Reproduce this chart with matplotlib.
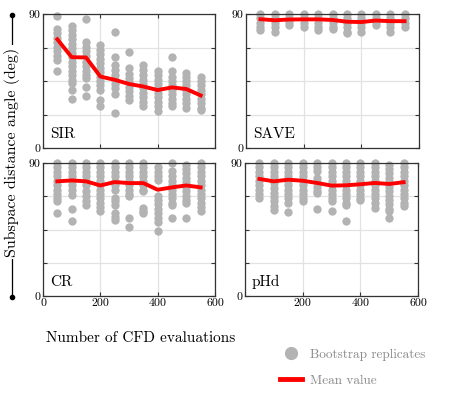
import matplotlib
matplotlib.use("Agg")
import matplotlib.pyplot as plt
from matplotlib.lines import Line2D

plt.rcParams["font.family"] = ["cmr10", "DejaVu Serif"]
plt.rcParams["axes.formatter.use_mathtext"] = True

# evaluation counts (x positions of the bootstrap columns)
n_evals = [50, 100, 150, 200, 250, 300, 350, 400, 450, 500, 550]

# bootstrap replicates per evaluation count (deg)
sir_boot = [
    [88.7, 80, 77, 74, 71, 68, 65, 62, 59, 52],
    [82, 79, 76, 73, 70, 67, 64, 61, 58, 55, 52, 49, 46, 43.6, 38.7, 33],
    [86.4, 71, 68, 65, 62, 58, 55, 52, 49, 47, 41, 34.6],
    [69, 66, 63, 60, 57, 54, 51, 48, 45, 42, 39, 32.4, 28.4],
    [77.7, 61, 55.8, 52.5, 49, 46, 43, 40, 36, 23.5],
    [64.3, 53.6, 50, 47, 44, 41, 38, 35, 32.4],
    [55.8, 52.5, 49, 46, 43, 40, 37, 34, 31, 28],
    [51.8, 49, 46, 43, 40, 37, 34, 31, 28, 24.6],
    [60.8, 51.4, 48, 45, 42, 39, 36, 33, 30, 28.4],
    [50.7, 48, 45, 42, 39, 36, 33, 30, 26.8],
    [47.6, 45, 42, 39, 36, 33, 30, 27, 25.7],
]
sir_mean = [73, 61, 60.8, 48, 45.8, 43, 41.3, 38.9, 40.7, 39.6, 35.3]

save_boot = [
    [90, 87, 84, 81, 79.5],
    [90, 87, 84, 81, 77.7],
    [90, 87, 84.5, 82.6],
    [90, 87, 84, 81],
    [90, 87, 84, 81, 79.5],
    [90, 87, 84, 81, 80],
    [90, 87, 84, 81, 78, 77.2],
    [90, 87, 84, 81, 77.7],
    [90, 87, 84.5, 82.5],
    [90, 87, 84, 81, 77.7],
    [90, 87, 84, 81.5],
]
save_mean = [86.5, 85.8, 86.3, 86.4, 86.4, 86, 84.8, 84.6, 85.6, 85.2, 85.2]

cr_boot = [
    [90, 87, 84, 81, 78, 75, 72, 69, 66, 64, 56.5],
    [90, 87, 84, 81, 78, 75, 72, 68.5, 58.6, 50.9],
    [90, 87, 84, 81, 78, 75, 70.8, 67.4, 64.5, 61.7],
    [90, 87, 84, 81, 78, 75, 72, 69, 66, 63, 60, 57.2],
    [90, 87, 84, 81, 78, 75, 72, 66.2, 64, 61.7, 56, 53.5, 51.5],
    [90, 87, 84, 81, 78, 75, 72, 69, 67.4, 52.7, 46.6],
    [90, 87, 84, 81, 78, 75, 72, 70.8, 59.7, 57.5, 56],
    [87, 84, 81, 78.7, 67.4, 65, 62, 59, 56, 53, 50.4, 43.7],
    [90, 84.3, 81, 78, 75, 72, 69, 66, 63, 61.7, 52.7],
    [88.9, 86, 83, 80, 77, 74, 71, 68, 65, 62.8, 52.7],
    [90, 87, 84, 81, 78, 75, 72, 69, 66, 63, 60, 57.2],
]
cr_mean = [77.6, 78.2, 77.6, 74.8, 77.1, 76.4, 76.4, 71.9, 73.5, 74.8, 73.5]

phd_boot = [
    [90, 87, 84, 81, 78, 75, 72, 69, 66.4],
    [90, 87, 84, 81, 78, 76.5, 73.1, 70, 67, 64, 61, 58.5],
    [90, 87, 84, 81, 78, 75, 72, 69, 66, 63, 56.7],
    [90, 87, 84, 81, 78, 75, 72, 69, 66, 64],
    [90, 87, 84.4, 80, 77, 74, 71, 70, 59],
    [90, 87, 84, 81, 78, 75, 72, 69, 66, 64, 57.8],
    [90, 87, 84, 81, 78, 75, 72, 69, 66, 63, 61.9, 51],
    [90, 87, 84, 81, 78, 75, 72, 69, 66, 65.2],
    [90, 87, 84, 81, 78, 75, 72, 69, 66, 63, 59.6],
    [88.9, 86, 83, 80, 77, 74, 71, 68, 65, 62, 59, 57.3, 52.8],
    [90, 87, 84, 81, 78, 75, 72, 69, 66, 63, 60.7],
]
phd_mean = [79.2, 77.6, 78.7, 78, 76.5, 74.7, 74.9, 75.6, 76.5, 75.8, 77]

panels = [
    ("SIR", sir_boot, sir_mean),
    ("SAVE", save_boot, save_mean),
    ("CR", cr_boot, cr_mean),
    ("pHd", phd_boot, phd_mean),
]

W, H = 473, 394
fig = plt.figure(figsize=(W / 100, H / 100), dpi=100)

# axes boxes in pixels: left, top, right, bottom
boxes = [(43, 14, 215, 148), (246, 14, 419, 148),
         (43, 163, 215, 296), (245, 163, 418, 296)]

dot_color = "#b3b3b3"
for i, ((name, boot, mean), (l, t, r, b)) in enumerate(zip(panels, boxes)):
    ax = fig.add_axes([l / W, 1 - b / H, (r - l) / W, (b - t) / H])
    for x, vals in zip(n_evals, boot):
        ax.scatter([x] * len(vals), vals, s=36, color=dot_color,
                   linewidths=0, clip_on=False, zorder=2)
    ax.plot(n_evals, mean, color="red", lw=2.8, zorder=3, clip_on=False)
    ax.set_xlim(0, 600)
    ax.set_ylim(0, 90)
    ax.set_xticks([0, 200, 400, 600])
    ax.set_yticks([0, 22.5, 45, 67.5, 90])
    ax.set_yticklabels(["0", "", "", "", "90"])
    if i < 2:
        ax.set_xticklabels([])
    elif i == 2:
        ax.set_xticklabels(["0", "200", "400", "600"])
    else:
        ax.set_xticklabels(["", "200", "400", "600"])
    ax.grid(True, color="#e2e2e2", lw=0.9, zorder=0)
    ax.set_axisbelow(True)
    ax.tick_params(direction="in", length=3, width=0.8, labelsize=8.5,
                   pad=2, right=True, top=True, color="#333333")
    for sp in ax.spines.values():
        sp.set_color("#333333")
        sp.set_linewidth(0.9)
    ax.text(0.04, 0.05, name, transform=ax.transAxes, fontsize=11,
            ha="left", va="bottom")

# decorated y label
fig.add_artist(Line2D([12 / W, 12 / W], [1 - 15 / H, 1 - 297 / H],
                      color="black", lw=0.9, marker="o", markersize=3,
                      markevery=[0, 1]))
fig.text(12 / W, 1 - 152 / H, "Subspace distance angle (deg)", rotation=90,
         ha="center", va="center", fontsize=11.5,
         bbox=dict(facecolor="white", edgecolor="none", pad=2))

fig.text(141 / W, 1 - 338 / H, "Number of CFD evaluations", ha="center",
         va="center", fontsize=11)

handles = [
    Line2D([], [], marker="o", ls="none", color=dot_color, markersize=8.5),
    Line2D([], [], color="red", lw=3.5),
]
fig.legend(handles, ["Bootstrap replicates", "Mean value"],
           loc="upper left", bbox_to_anchor=(268 / W, 1 - 337 / H),
           frameon=False, fontsize=9.5, labelcolor="#8a8a8a",
           handlelength=1.7, labelspacing=1.0, handletextpad=0.6)

fig.savefig("out.png", dpi=100)
